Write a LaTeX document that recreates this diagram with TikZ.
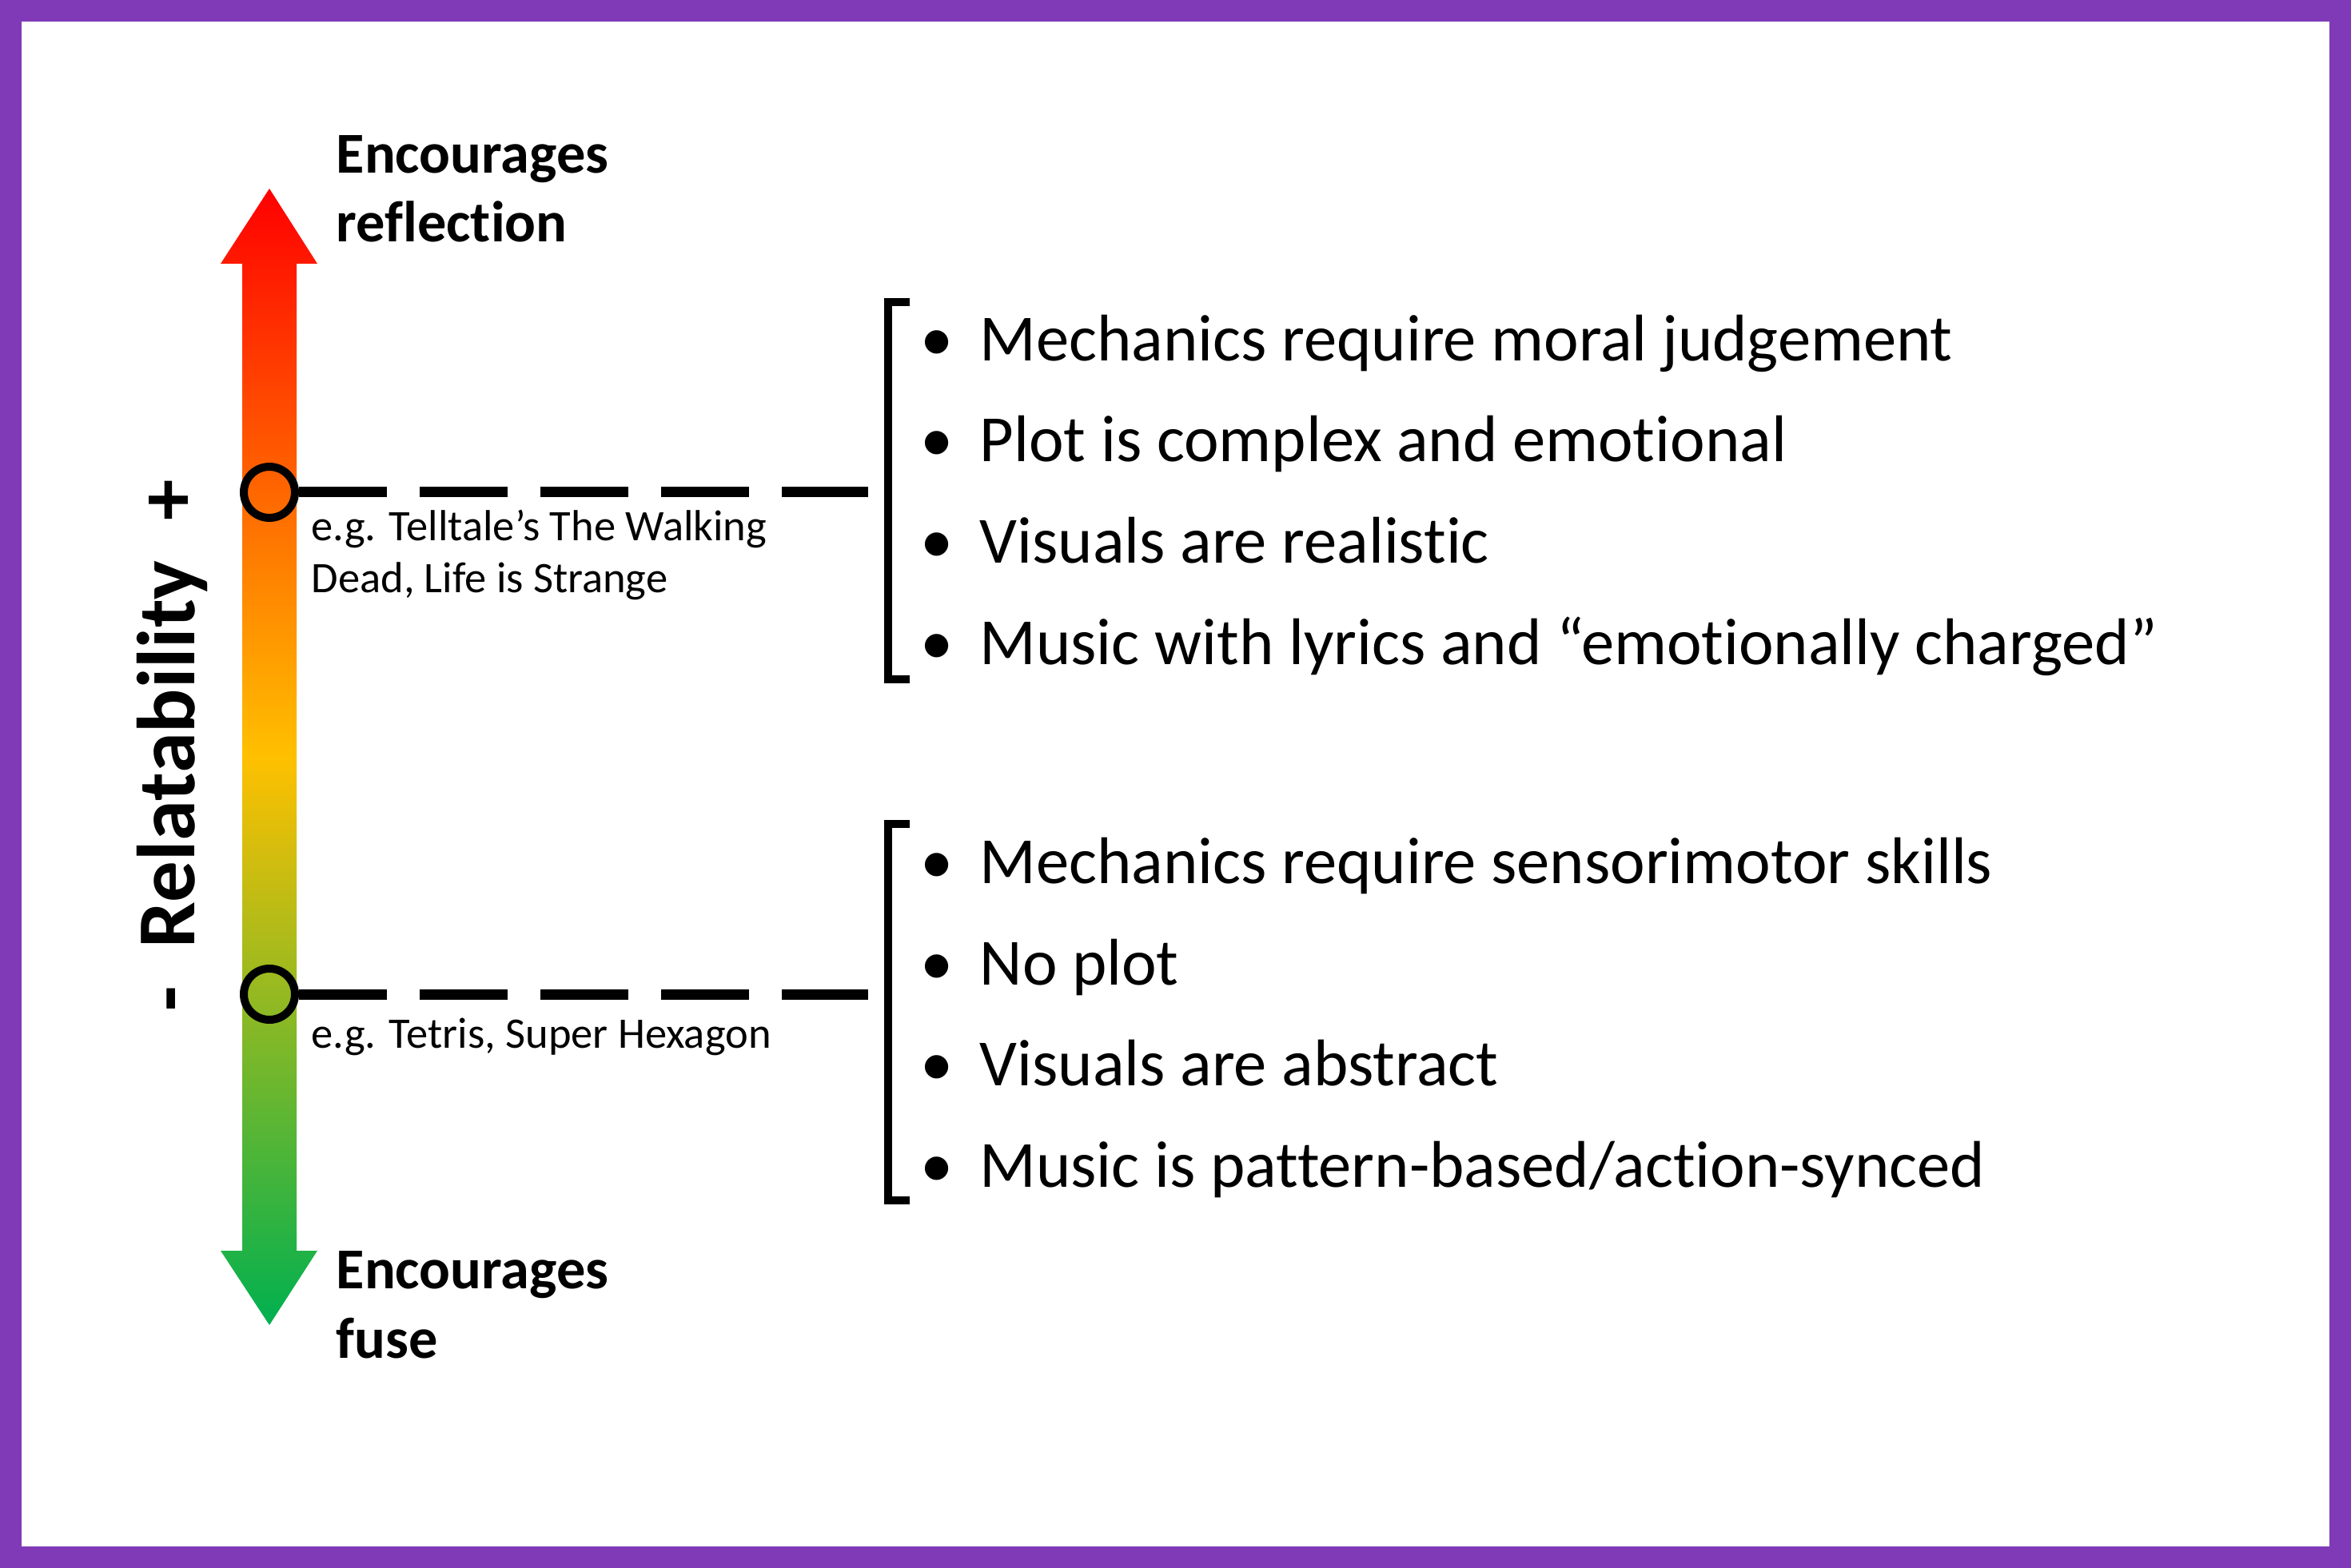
\documentclass[tikz,border=0pt]{standalone}
\usepackage{fontspec}
\setmainfont{Carlito}[Ligatures={NoCommon}]

\definecolor{framepurple}{RGB}{128,58,184}
\definecolor{barred}{RGB}{255,0,0}
\definecolor{baryellow}{RGB}{255,192,0}
\definecolor{bargreen}{RGB}{0,176,80}

\newcommand{\bul}[1]{\makebox[7.4mm][l]{•}#1}

\begin{document}
\begin{tikzpicture}
[x=1mm,y=1mm,every node/.style={inner sep=0pt,anchor=base west},
 itemtext/.style={font=\fontsize{23.5}{28}\selectfont},
 exampletext/.style={font=\fontsize{15.5}{18.5}\selectfont,align=left},
 poletext/.style={font=\fontsize{20.6}{24.5}\selectfont\bfseries,align=left},
 marker/.style={circle,draw,line width=1mm,minimum size=6.4mm,anchor=center},
 dashline/.style={line width=1.3mm,dash pattern=on 11mm off 4.1mm},
 bracketline/.style={line width=1mm}]

\useasboundingbox (0,0) rectangle (294.1,-196.2);
\draw[framepurple,line width=2.7mm] (1.35,-1.35) rectangle (292.75,-194.85);

%scale bar
\shade[top color=barred,bottom color=bargreen,middle color=baryellow]
 (33.7,-23.6) -- (39.7,-33.0) -- (37.1,-33.0) -- (37.1,-156.5) -- (39.7,-156.5)
 -- (33.7,-165.8) -- (27.6,-156.5) -- (30.3,-156.5) -- (30.3,-33.0) -- (27.6,-33.0) -- cycle;

\node[marker] (hi) at (33.7,-61.6) {};
\node[marker] (lo) at (33.7,-124.4) {};

\coordinate (hiend) at (108.6,-61.6);
\coordinate (loend) at (108.6,-124.4);

\foreach \from/\to in {hi/hiend,lo/loend}
\draw [dashline] (\from) -- (\to);

% last line baselines
\node[poletext] (top) at (42.0,-30.3) {Encourages\\reflection};
\node[poletext] (bottom) at (42.0,-169.9) {Encourages\\fuse};
\node[exampletext] (hinote) at (38.9,-74.2) {e.g. Telltale’s The Walking\\Dead, Life is Strange};
\node[exampletext] (lonote) at (38.9,-131.1) {e.g. Tetris, Super Hexagon};
\node[font=\fontsize{29.3}{35}\selectfont\bfseries,rotate=90,anchor=base] (axis) at (24.3,-93.3)
 {-\hspace{4.8mm}Relatability\hspace{5mm}+};

%brackets
\draw[bracketline] (113.8,-37.85) -- (111.05,-37.85) -- (111.05,-85.0) -- (113.8,-85.0);
\draw[bracketline] (113.8,-103.1) -- (111.05,-103.1) -- (111.05,-150.2) -- (113.8,-150.2);

\node[itemtext] (h1) at (115.1,-45.2) {\bul{Mechanics require moral judgement}};
\node[itemtext] (h2) at (115.1,-57.8) {\bul{Plot is complex and emotional}};
\node[itemtext] (h3) at (115.1,-70.5) {\bul{Visuals are realistic}};
\node[itemtext] (h4) at (115.1,-83.2) {\bul{Music with lyrics and “emotionally charged”}};

\node[itemtext] (l1) at (115.1,-110.5) {\bul{Mechanics require sensorimotor skills}};
\node[itemtext] (l2) at (115.1,-123.2) {\bul{No plot}};
\node[itemtext] (l3) at (115.1,-135.8) {\bul{Visuals are abstract}};
\node[itemtext] (l4) at (115.1,-148.5) {\bul{Music is pattern-based/action-synced}};

\end{tikzpicture}
\end{document}
